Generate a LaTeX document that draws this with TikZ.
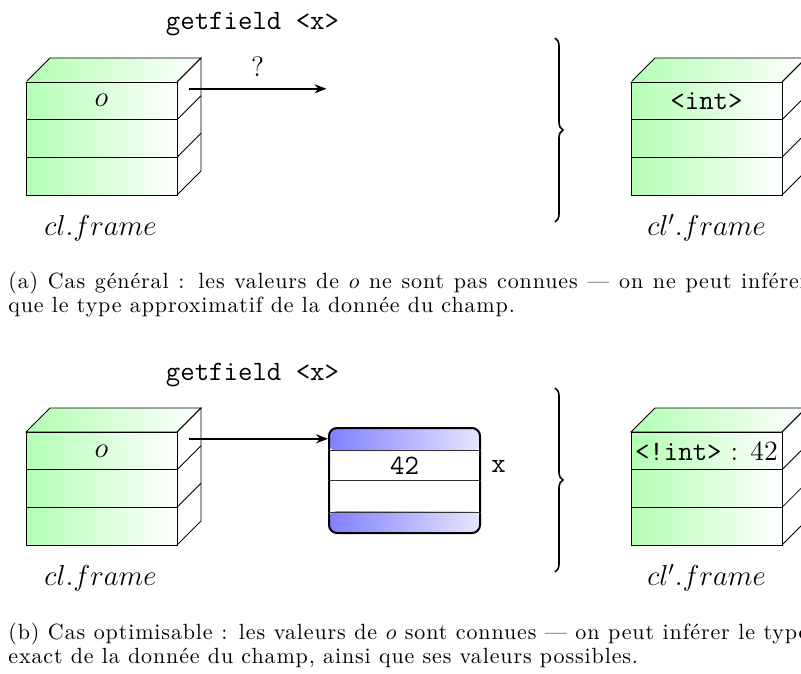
\documentclass[tikz,border=0pt]{standalone}
\usepackage{fontspec}
\usetikzlibrary{arrows.meta,decorations.pathreplacing,positioning}

\newfontfamily\capfont[LetterSpace=4]{Latin Modern Roman}

\tikzset{
  stackframe/.pic={
    \shadedraw[left color=green!30,right color=white] (0,0) -- (24,-24) -- (175,-24) -- (151,0) -- cycle;
    \shadedraw[left color=green!30,right color=white] (0,0) rectangle (151,113);
    \draw (0,37.7) -- (151,37.7) (0,75.3) -- (151,75.3);
    \draw (151,0) -- (175,-24) -- (175,89) -- (151,113);
    \draw (151,37.7) -- (175,13.7) (151,75.3) -- (175,51.3);
    \coordinate (-slot) at (75.5,18.8);
    \coordinate (-side) at (162.5,6.8);
  }
}

\begin{document}
\begin{tikzpicture}[x=0.5pt,y=-0.5pt,
    txt/.style={font=\fontsize{14}{17}\selectfont,inner sep=0pt},
    subcap/.style={anchor=base west,inner sep=0pt,text width=400pt,align=justify,
      font=\capfont\fontsize{11}{12}\selectfont},
    link/.style={thick,-{Stealth[length=6pt,width=4.5pt]}},
    gather/.style={decorate,decoration={brace,amplitude=4pt},thick},
    band/.style={left color=blue!50,right color=blue!10},
    valbox/.style={draw,line width=1pt,rounded corners=4pt,minimum width=75.5pt,minimum height=52.5pt,inner sep=0pt,
      path picture={
        \shade[band] (path picture bounding box.north west) rectangle ([yshift=-11.5pt]path picture bounding box.north east);
        \shade[band] (path picture bounding box.south west) rectangle ([yshift=11pt]path picture bounding box.south east);
      }}]
  \useasboundingbox (0,0) rectangle (801,673);
  \clip (0,0) rectangle (801,673);

  % (a)
  \pic (clA) at (26,82) {stackframe};
  \pic (clB) at (631,82) {stackframe};
  \node[txt] (objA) at (clA-slot) {$o$};
  \node[txt] (typeB) at (clB-slot) {\texttt{<int>}};
  \node[txt,anchor=base] (insnA) at (252.5,30) {\texttt{getfield <x>}};
  \coordinate (endA) at ([xshift=69pt]clA-side);
  \draw[link] (clA-side) -- node[txt,above=5.5pt] (unk) {?} (endA);
  \node[txt] (nameA) at (100.5,228) {$cl.frame$};
  \node[txt] (nameB) at (706.5,228) {$cl'.frame$};
  \draw[gather] (555,38) -- (555,222);
  \node[subcap] (capA) at (8,288) {(a) Cas général : les valeurs de $o$ ne sont pas connues — on ne peut inférer\linebreak que le type approximatif de la donnée du champ.};

  % (b)
  \pic (clC) at (26,432) {stackframe};
  \pic (clD) at (631,432) {stackframe};
  \node[txt] (objC) at (clC-slot) {$o$};
  \node[txt] (typeD) at (clD-slot) {\texttt{<!int>} : 42};
  \node[txt,anchor=base] (insnC) at (252.5,380) {\texttt{getfield <x>}};
  \node[valbox] (val) at (404.5,480.5) {};
  \draw[black!80] ([yshift=-11.5pt]val.north west) -- ([yshift=-11.5pt]val.north east)
    ([yshift=-26.5pt]val.north west) -- ([yshift=-26.5pt]val.north east)
    ([yshift=11pt]val.south west) -- ([yshift=11pt]val.south east);
  \node[txt] (num) at (404.5,466) {\texttt{42}};
  \node[txt] (fieldx) at (498.5,466) {\texttt{x}};
  \draw[link] (clC-side) -- (val.west |- clC-side);
  \node[txt] (nameC) at (100.5,578) {$cl.frame$};
  \node[txt] (nameD) at (706.5,578) {$cl'.frame$};
  \draw[gather] (555,388) -- (555,572);
  \node[subcap] (capB) at (8,639) {(b) Cas optimisable : les valeurs de $o$ sont connues — on peut inférer le type\linebreak exact de la donnée du champ, ainsi que ses valeurs possibles.};
\end{tikzpicture}
\end{document}
